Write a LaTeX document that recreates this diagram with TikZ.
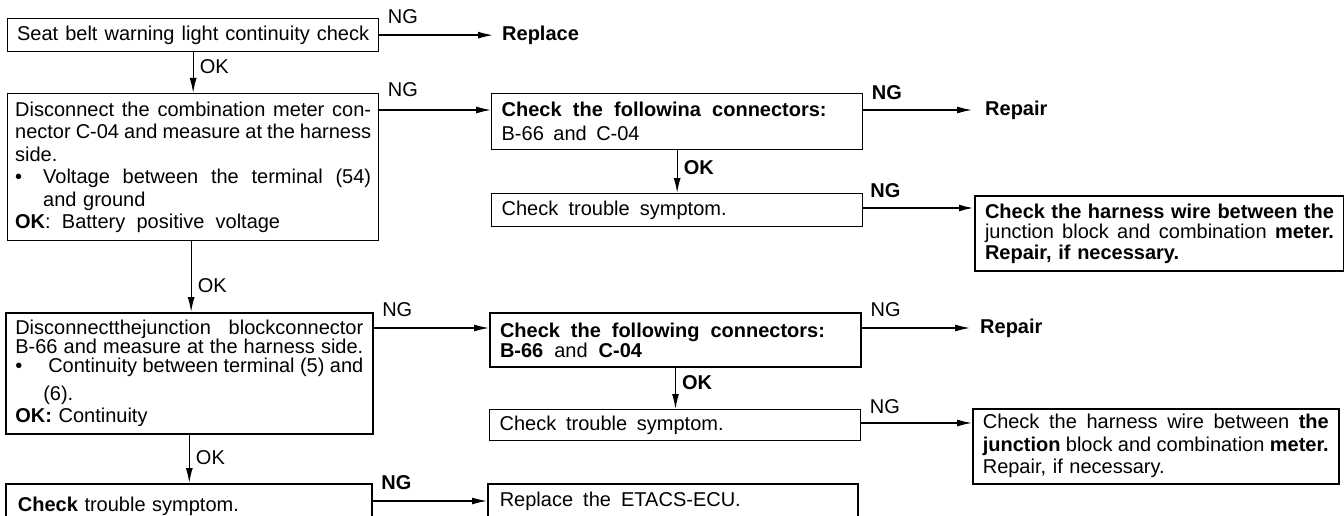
\documentclass[tikz,border=0pt]{standalone}
\usepackage{fontspec}
\setmainfont{Liberation Sans}
\usetikzlibrary{arrows.meta,calc}
\newcommand\jl[2]{\makebox[#1][s]{\spaceskip=0pt\xspaceskip=0pt #2}}
\newcommand\jw[1]{\makebox[\hsize][s]{\spaceskip=0pt\xspaceskip=0pt #1}}
\begin{document}
\begin{tikzpicture}[x=1pt,y=-1pt,
  box/.style={draw, line width=1.3pt, rectangle, anchor=north west, inner sep=0pt, align=left,
              font=\fontsize{20}{24}\selectfont},
  term/.style={anchor=west, inner xsep=9pt, inner ysep=0pt, font=\fontsize{20}{24}\selectfont\bfseries},
  arr/.style={line width=1.3pt, -{Latex[length=15pt,width=7pt]}},
  ng/.style={pos=0, anchor=south west, inner sep=0pt, xshift=8pt, yshift=11pt, font=\fontsize{20}{24}\selectfont},
  ngb/.style={ng, font=\fontsize{20}{24}\selectfont\bfseries},
  ok/.style={anchor=west, inner sep=0pt, xshift=6pt, font=\fontsize{20}{24}\selectfont},
  okb/.style={ok, font=\fontsize{20}{24}\selectfont\bfseries}
]
\fill[white] (0,0) rectangle (1344,516);
\useasboundingbox (0,0) rectangle (1344,516);

% left column
\node[box, minimum width=371pt, minimum height=33pt, text width=352pt] (b1) at (7,18)
  {\jw{Seat belt warning light continuity check}};
\node[box, minimum width=371pt, minimum height=147pt, text width=356pt,
      font=\fontsize{20}{22.5}\selectfont] (b2) at (7,93)
  {\jw{Disconnect the combination meter con-}\\
   \jw{nector C-04 and measure at the harness}\\
   side.\\
   \jw{•\hspace{21pt}Voltage between the terminal (54)}\\
   \hspace*{28pt}and ground\\
   \jl{265pt}{\textbf{OK}: Battery positive voltage}};
\node[box, line width=1.6pt, minimum width=367pt, minimum height=121pt, text width=348pt,
      font=\fontsize{20}{19}\selectfont] (b3) at (5,312)
  {\jw{Disconnectthejunction blockconnector}\\
   \jw{B-66 and measure at the harness side.}\\
   \jw{•\hspace{26pt}Continuity between terminal (5) and}\\[9pt]
   \hspace*{28pt}(6).\\[3pt]
   \textbf{OK:} Continuity};
\node[box, line width=1.8pt, minimum width=366pt, minimum height=44pt, text width=342pt] (b4) at (5,483)
  {\jl{221pt}{\textbf{Check} trouble symptom.}};

% middle column
\node[box, minimum width=371pt, minimum height=56pt, text width=351pt] (b5) at (491,93)
  {\jl{325pt}{\textbf{Check the followina connectors:}}\\
   \jl{138pt}{B-66 and C-04}};
\node[box, minimum width=371pt, minimum height=33pt, text width=351pt] (b6) at (491,193)
  {\jl{225pt}{Check trouble symptom.}};
\node[box, line width=2pt, minimum width=371pt, minimum height=54pt, text width=351pt,
      font=\fontsize{20}{20}\selectfont] (b8) at (489,312)
  {\jl{325pt}{\textbf{Check the following connectors:}}\\
   \jl{142pt}{\textbf{B-66} and \textbf{C-04}}};
\node[box, minimum width=371pt, minimum height=31pt, text width=351pt] (b9) at (489,409)
  {\jl{224pt}{Check trouble symptom.}};
\node[box, line width=1.6pt, minimum width=370pt, minimum height=36pt, text width=346pt] (b10) at (487,483)
  {\jl{241pt}{Replace the ETACS-ECU.}};

% right column
\node[term] (r1) at (493,35) {Replace};
\node[term, inner xsep=13pt] (r2) at (972,110) {Repair};
\node[term, inner xsep=10pt] (r3) at (970,328) {Repair};
\node[box, line width=2pt, minimum width=369pt, minimum height=75pt, text width=349pt,
      font=\fontsize{20}{20.5}\selectfont] (b7) at (974,195)
  {\jw{\textbf{Check the harness wire between the}}\\
   \jw{junction block and combination \textbf{meter.}}\\
   \textbf{Repair, if necessary.}};
\node[box, line width=1.6pt, minimum width=366pt, minimum height=75pt, text width=346pt,
      font=\fontsize{20}{22.5}\selectfont] (b11) at (972,408)
  {\jw{Check the harness wire between \textbf{the}}\\
   \jw{\textbf{junction} block and combination \textbf{meter.}}\\
   Repair, if necessary.};

% NG connectors
\draw[arr] (b1.east) -- node[ng]{NG} (b1.east -| r1.west);
\draw[arr] ([yshift=-17pt]b2.north east) coordinate (s2) -- node[ng, yshift=2pt]{NG} (s2 -| b5.west);
\draw[arr] ([yshift=-16pt]b3.north east) coordinate (s3) -- node[ng]{NG} (s3 -| b8.west);
\draw[arr] ([yshift=-18pt]b4.north east) coordinate (s4) -- node[ngb]{NG} (s4 -| b10.west);
\draw[arr] ([yshift=-17pt]b5.north east) coordinate (s5) -- node[ngb, yshift=-1pt]{NG} (s5 -| r2.west);
\draw[arr, line width=2pt] ([yshift=-15pt]b6.north east) coordinate (s6) -- node[ngb, xshift=-2pt, yshift=-2pt]{NG} (s6 -| b7.west);
\draw[arr] ([yshift=-16pt]b8.north east) coordinate (s8) -- node[ng]{NG} (s8 -| r3.west);
\draw[arr] ([yshift=-14pt]b9.north east) coordinate (s9) -- node[ng, yshift=-2pt]{NG} (s9 -| b11.west);

% OK connectors
\draw[arr] (b1.south) -- node[ok, pos=0.35]{OK} (b1.south |- b2.north);
\draw[arr] ([xshift=-2pt]b2.south) coordinate (v2) -- node[ok, pos=0.62]{OK} (v2 |- b3.north);
\draw[arr] (b3.south) -- node[ok, pos=0.48]{OK} (b3.south |- b4.north);
\draw[arr] (b5.south) -- node[okb, pos=0.4]{OK} (b5.south |- b6.north);
\draw[arr] (b8.south) -- node[okb, pos=0.35]{OK} (b8.south |- b9.north);
\end{tikzpicture}
\end{document}
